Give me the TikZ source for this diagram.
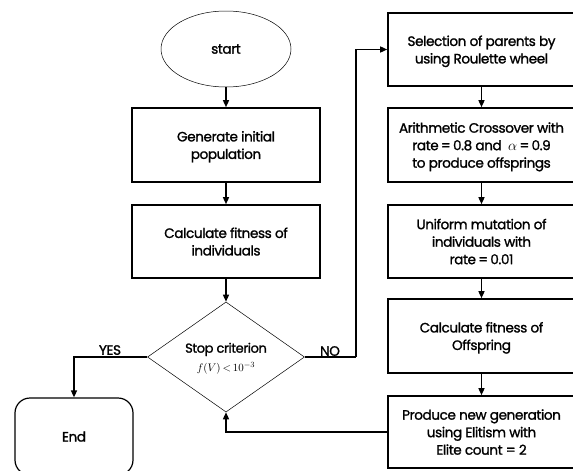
\documentclass[tikz,border=0pt]{standalone}
\usepackage{fontspec}
\setmainfont{Poppins}[FakeBold=1.3,LetterSpace=-3]
\usetikzlibrary{shapes.geometric,arrows.meta}
\begin{document}
\begin{tikzpicture}[x=1pt,y=-1pt,
  txt/.style={font=\fontsize{13.6}{17.5}\selectfont, align=center, text depth=0pt},
  box/.style={txt, draw, line width=1.6pt, inner sep=0pt},
  arr/.style={line width=1.4pt, -{Triangle[length=7pt,width=6pt]}},
  ln/.style={line width=1.4pt}]
\useasboundingbox (0,0) rectangle (573,471);
\clip (0,0) rectangle (573,471);
\node[txt, draw, ellipse, line width=0.5pt, minimum width=130pt, minimum height=76pt, inner sep=0pt] (start) at (226,49) {start};
\node[box, minimum width=188pt, minimum height=74pt] (gen) at (226,145) {Generate initial\\population};
\node[box, minimum width=188pt, minimum height=73pt] (calc) at (226,241.5) {Calculate fitness of\\individuals};
\node[txt, font=\fontsize{13}{18.5}\selectfont, draw, diamond, line width=0.5pt, minimum width=157pt, minimum height=82pt, inner sep=0pt] (dia) at (226,357) {Stop criterion\\{\fontsize{11}{13}\selectfont$f(V)\,{<}\,10^{-3}$}};
\node[txt, draw, line width=1.2pt, rounded corners=15pt, minimum width=118pt, minimum height=77pt, inner sep=0pt] (end) at (74,436.5) {End};
\node[box, minimum width=187pt, minimum height=73pt] (sel) at (481.5,49.5) {Selection of parents by\\using Roulette wheel};
\node[box, minimum width=187pt, minimum height=74pt] (cross) at (481.5,145) {Arithmetic Crossover with\\rate\,=\,0.8 and \ $\alpha$\,=\,0.9\\to produce offsprings};
\node[box, minimum width=187pt, minimum height=73pt] (mut) at (481.5,241.5) {Uniform mutation of\\individuals with\\rate\,=\,0.01};
\node[box, minimum width=187pt, minimum height=74pt] (fit) at (481.5,336) {Calculate fitness of\\Offspring};
\node[box, minimum width=187pt, minimum height=72pt] (prod) at (481.5,432) {Produce new generation\\using Elitism with\\Elite count = 2};
\node[txt] (yes) at (110,350) {YES};
\node[txt] (no) at (330,351) {NO};
\coordinate (turn) at (356,357);
\draw[arr] (start) -- (gen);
\draw[arr] (gen) -- (calc);
\draw[arr] (calc) -- (dia);
\draw[arr] (dia.west) -| (end.north);
\draw[ln] (dia.east) -- (turn);
\draw[arr] (turn) |- (sel.west);
\draw[arr] (sel) -- (cross);
\draw[arr] (cross) -- (mut);
\draw[arr] (mut) -- (fit);
\draw[arr] (fit) -- (prod);
\draw[arr] (prod.west) -| (dia.south);
\end{tikzpicture}
\end{document}
